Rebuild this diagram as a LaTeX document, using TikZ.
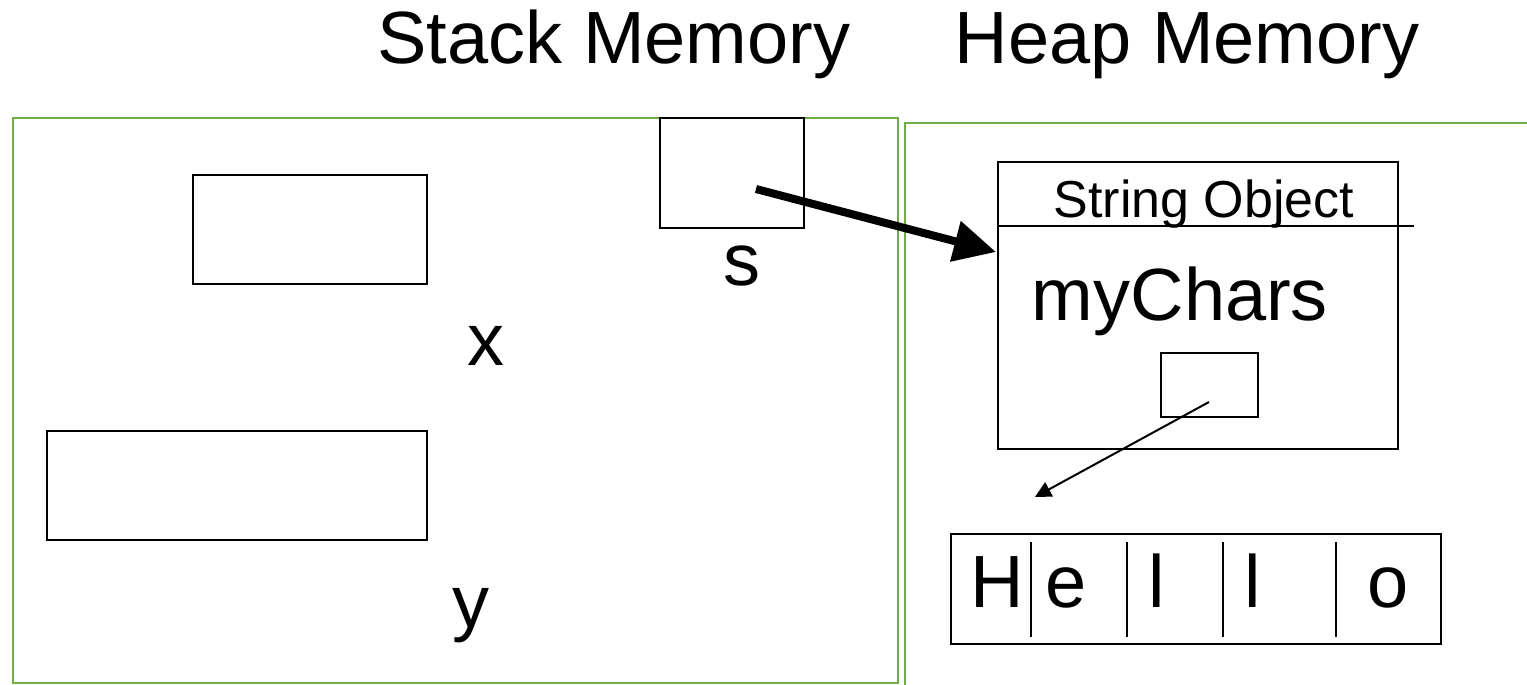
\documentclass[tikz,border=0pt]{standalone}
\usepackage{fontspec}
\setmainfont{Liberation Sans}
\usetikzlibrary{arrows.meta}
\definecolor{framegreen}{HTML}{70AD47}
\begin{document}
\begin{tikzpicture}[x=0.5pt,y=-0.5pt,
  frame/.style={draw=framegreen,line width=1pt},
  cell/.style={draw=black,line width=1pt,inner sep=0pt,outer sep=0pt},
  big/.style={font=\fontsize{37}{44}\selectfont,inner sep=0pt,anchor=base},
  small/.style={font=\fontsize{26}{31}\selectfont,inner sep=0pt,anchor=base},
  thickarrow/.style={line width=4pt,-{Triangle[length=21pt,width=20pt]}},
  thinarrow/.style={line width=1pt,-{Triangle[length=8pt,width=8pt]}},
  divider/.style={line width=0.7pt}]
\useasboundingbox (0,0) rectangle (1527,685);
% frames
\draw[frame] (13,118) rectangle (898,683);
\draw[frame] (1527,123) -- (905,123) -- (905,685);
% titles
\node[big] (stitle) at (614,63) {Stack Memory};
\node[big] (htitle) at (1187,63) {Heap Memory};
% stack cells
\node[cell,minimum width=117pt,minimum height=54.5pt] (xbox) at (310,229.5) {};
\node[big] (xlab) at (486,365) {x};
\node[cell,minimum width=190pt,minimum height=54.5pt] (ybox) at (237,485.5) {};
\node[big] (ylab) at (471,627) {y};
\node[cell,minimum width=72pt,minimum height=55pt] (sbox) at (732,173) {};
\node[big] (slab) at (742,285) {s};
% string object
\node[cell,minimum width=200pt,minimum height=143.5pt] (so) at (1198,305.5) {};
\draw[line width=1pt] (so.west |- 0,226) -- (1414,226);
\node[small] (sotitle) at (1204,217) {String Object};
\node[big] (mychars) at (1180,320) {myChars};
\node[cell,minimum width=48.5pt,minimum height=32pt] (ptr) at (1209.5,385) {};
% hello array
\node[cell,minimum width=245pt,minimum height=55pt] (arr) at (1196,589) {};
\foreach \xx in {1031,1127,1223,1336}{\draw[divider] (\xx,542) -- (\xx,637);}
\node[big] (c1) at (997,607) {H};
\node[big] (c2) at (1066,607) {e};
\node[big] (c3) at (1157,607) {l};
\node[big] (c4) at (1253,607) {l};
\node[big] (c5) at (1388,607) {o};
% arrows
\coordinate (sstart) at (756,189);
\coordinate (soentry) at (996,252);
\draw[thickarrow] (sstart) -- (soentry);
\coordinate (pstart) at (1209,402);
\coordinate (arrentry) at (1035,497);
\draw[thinarrow] (pstart) -- (arrentry);
\end{tikzpicture}
\end{document}
